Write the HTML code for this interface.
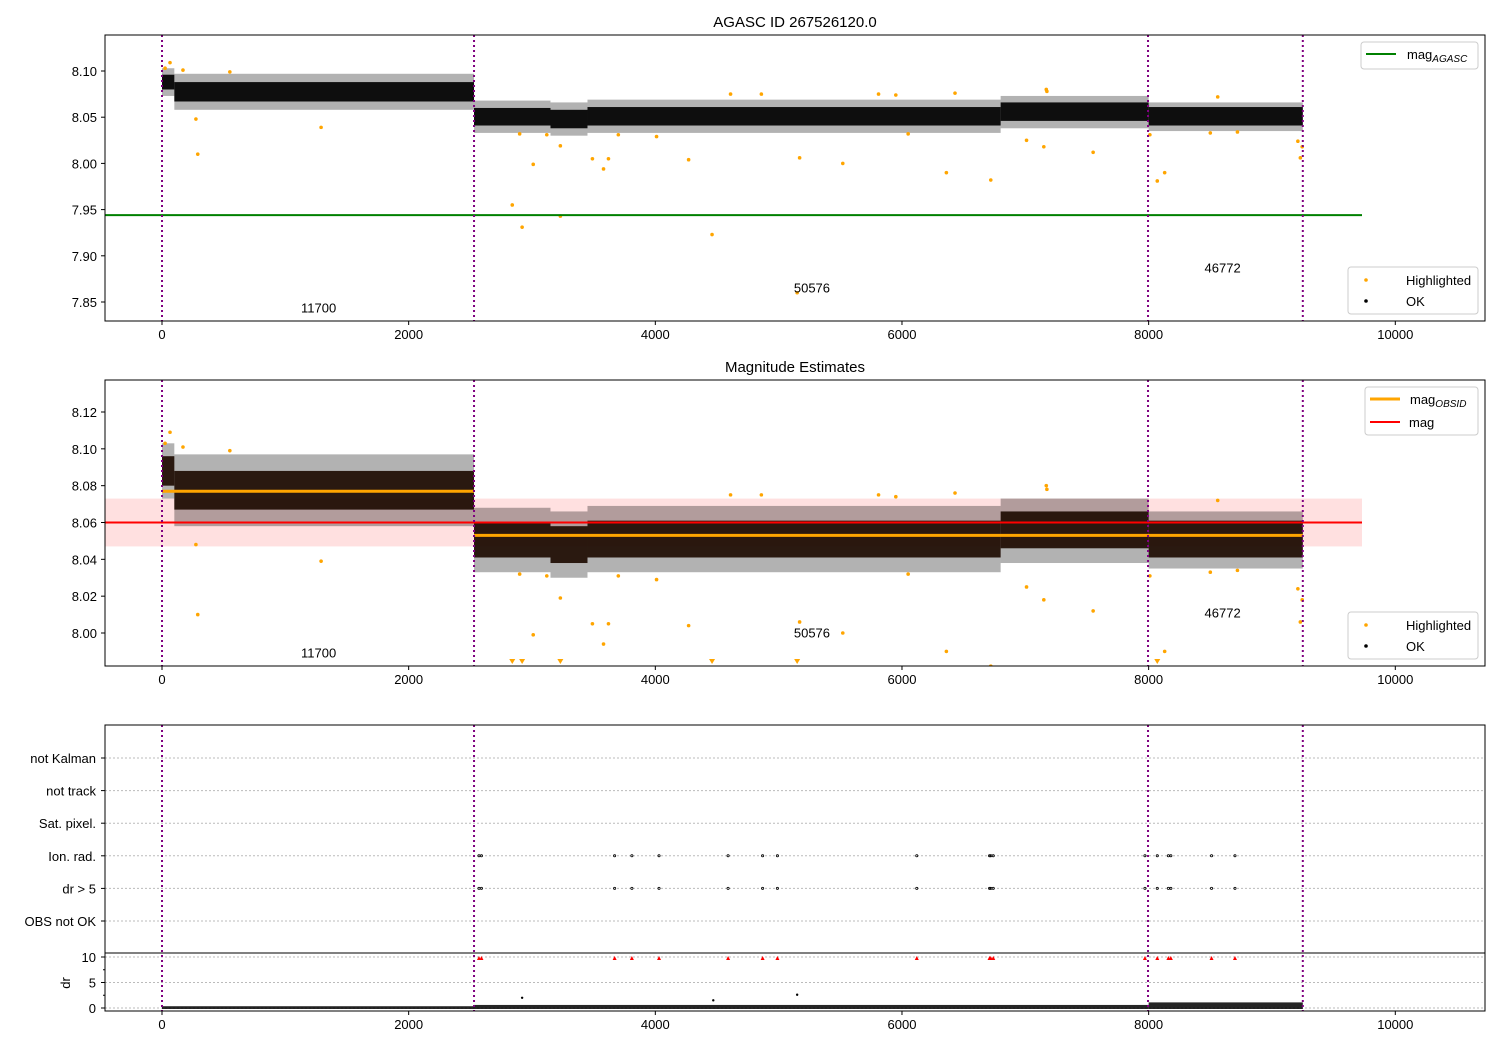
<!DOCTYPE html>
<html><head><meta charset="utf-8"><style>
body{margin:0;background:#fff}
svg{display:block;font-family:"Liberation Sans","DejaVu Sans",sans-serif}
</style></head><body>
<svg id="fig" width="1500" height="1050" viewBox="0 0 1500 1050" xmlns="http://www.w3.org/2000/svg"></svg>
<script>
// ---- data ----
const obsBounds=[0,2530,7995,9250];
const obsLabels=["11700","50576","46772"];
const obsLabelX=[1270,5270,8600];
const cloudStart=[0,100,2530,3150,3450,6800,8000];
const cloudEnd=[100,2530,3150,3450,6800,8000,9250];
const coreLo=[8.080,8.067,8.041,8.038,8.041,8.046,8.041];
const coreHi=[8.096,8.088,8.060,8.058,8.061,8.066,8.061];
const outLo=[8.073,8.058,8.033,8.030,8.033,8.038,8.035];
const outHi=[8.103,8.097,8.068,8.066,8.069,8.073,8.066];
const obsMagX0=[0,2530];
const obsMagX1=[2530,9250];
const obsMag=[8.077,8.053];
const magAgasc=7.944;
const magMean=8.060;
const magStd=0.013;
const hiX=[25,65,170,275,290,550,1290,2840,2920,3010,3230,3230,3490,3580,3620,4010,4270,4460,5150,5170,5520,6050,6360,6720,7010,7150,7550,8010,8070,8130,8500,9210,9230,9245,5810,7170,7175,6430,4610,2900,3120,3700,4860,5950,8560,8720];
const hiY=[8.103,8.109,8.101,8.048,8.010,8.099,8.039,7.955,7.931,7.999,8.019,7.943,8.005,7.994,8.005,8.029,8.004,7.923,7.860,8.006,8.000,8.032,7.990,7.982,8.025,8.018,8.012,8.031,7.981,7.990,8.033,8.024,8.006,8.018,8.075,8.080,8.078,8.076,8.075,8.032,8.031,8.031,8.075,8.074,8.072,8.034];
const flagCats=["OBS not OK","dr > 5","Ion. rad.","Sat. pixel.","not track","not Kalman"];
const eventX=[2570,2590,3670,3810,4030,4590,4870,4990,6120,6710,6720,6740,7970,8070,8160,8180,8510,8700];
const drStart=[0,2530,8000];
const drEnd=[2530,8000,9250];
const drLevel=[0.2,0.4,0.8];
const drHi=[0.35,0.6,1.1];
const drOut=[[2920,2.0],[4470,1.5],[5150,2.6]];
const xTicks=[0,2000,4000,6000,8000,10000];
const y1Ticks=[7.85,7.90,7.95,8.00,8.05,8.10];
const y2Ticks=[8.00,8.02,8.04,8.06,8.08,8.10,8.12];
const drTicks=[0,5,10];

// ---- helpers ----
const S=document.getElementById('fig');const NS='http://www.w3.org/2000/svg';
function el(t,a,p){const e=document.createElementNS(NS,t);for(const k in a)e.setAttribute(k,a[k]);(p||S).appendChild(e);return e;}
function txt(x,y,s,a,p){const e=el('text',Object.assign({x:x,y:y,'font-size':13,fill:'#000'},a),p);e.textContent=s;return e;}
const L=105,R=1485;
const X=v=>162+(v)*0.12333;
function mkY(top,bot,vTop,vBot){return v=>top+(vTop-v)/(vTop-vBot)*(bot-top);}
const P1={top:35,bot:321,Y:mkY(71,302,8.10,7.85),min:7.829,max:8.139};
const P2={top:380,bot:666,Y:mkY(412,633,8.12,8.00),min:7.982,max:8.137};

function xAxis(bot,g){xTicks.forEach(t=>{el('line',{x1:X(t),x2:X(t),y1:bot,y2:bot+4,stroke:'#000'},g);const e=txt(X(t),bot+18,String(t),{'text-anchor':'middle'},g);});}
function vlines(top,bot,g){obsBounds.forEach(b=>{const e=el('line',{x1:X(b),x2:X(b),y1:top,y2:bot,stroke:'#800080','stroke-width':2,'stroke-dasharray':'2,3'},g);});}
function legendBox(x,y,w,h,g){el('rect',{x:x,y:y,width:w,height:h,rx:3,fill:'#fff','fill-opacity':0.85,stroke:'#ccc'},g);}

function magPanel(P,name,showOrange){
  const g=el('g',{});
  const Y=P.Y;
  const clip=el('clipPath',{id:'c'+name},g);el('rect',{x:L,y:P.top,width:R-L,height:P.bot-P.top},clip);
  const inner=el('g',{'clip-path':'url(#c'+name+')'},g);
  if(showOrange){
    const b=el('rect',{x:X(-460),y:Y(magMean+magStd),width:X(9730)-X(-460),height:Y(magMean-magStd)-Y(magMean+magStd),fill:'#ff0000','fill-opacity':0.12},inner);
    
  }
  for(let i=0;i<cloudStart.length;i++){
    const x0=X(cloudStart[i]),w=X(cloudEnd[i])-X(cloudStart[i]);
    const o=el('rect',{x:x0,y:Y(outHi[i]),width:w,height:Y(outLo[i])-Y(outHi[i]),fill:'#000','fill-opacity':0.3},inner);
    
    const c=el('rect',{x:x0,y:Y(coreHi[i]),width:w,height:Y(coreLo[i])-Y(coreHi[i]),fill:showOrange?'#1e0c02':'#000','fill-opacity':0.92},inner);
    
  }
  for(let i=0;i<hiX.length;i++){
    if(hiY[i]<P.min){if(showOrange){const cx=X(hiX[i]),cy=P.bot-4;const t=el('path',{d:`M${cx-3},${cy-3}L${cx+3},${cy-3}L${cx},${cy+2}Z`,fill:'orange'},inner);}continue;}
    const c=el('circle',{cx:X(hiX[i]),cy:Y(hiY[i]),r:1.8,fill:'orange'},inner);
    
  }
  if(showOrange){
    for(let i=0;i<obsMag.length;i++){const l=el('line',{x1:X(obsMagX0[i]),x2:X(obsMagX1[i]),y1:Y(obsMag[i]),y2:Y(obsMag[i]),stroke:'orange','stroke-width':3},inner);}
    const m=el('line',{x1:X(-460),x2:X(9730),y1:Y(magMean),y2:Y(magMean),stroke:'red','stroke-width':2},inner);
  } else {
    const m=el('line',{x1:L,x2:X(9730),y1:Y(magAgasc),y2:Y(magAgasc),stroke:'green','stroke-width':2},inner);
  }
  vlines(P.top,P.bot,g);
  const lblY=[P.min+(P.max-P.min)*0.045,P.min+(P.max-P.min)*0.115,P.min+(P.max-P.min)*0.185];
  for(let i=0;i<obsLabels.length;i++){const t=txt(X(obsLabelX[i]),Y(lblY[i])+4,obsLabels[i],{'text-anchor':'middle'},g);}
  el('rect',{x:L,y:P.top,width:R-L,height:P.bot-P.top,fill:'none',stroke:'#000'},g);
  const ticks=showOrange?y2Ticks:y1Ticks;
  ticks.forEach(t=>{el('line',{x1:L-4,x2:L,y1:Y(t),y2:Y(t),stroke:'#000'},g);const e=txt(L-8,Y(t)+5,t.toFixed(2),{'text-anchor':'end'},g);});
  xAxis(P.bot,g);
  const lg=el('g',{});
  legendBox(1348,P.bot-54,130,47,lg);
  el('circle',{cx:1366,cy:P.bot-41,r:1.8,fill:'orange'},lg);txt(1406,P.bot-36,'Highlighted',{},lg);
  el('circle',{cx:1366,cy:P.bot-20,r:1.8,fill:'#000'},lg);txt(1406,P.bot-15,'OK',{},lg);
  const lg2=el('g',{});
  if(showOrange){
    legendBox(1365,P.top+7,113,48,lg2);
    el('line',{x1:1370,x2:1400,y1:P.top+19,y2:P.top+19,stroke:'orange','stroke-width':3},lg2);
    const t=txt(1410,P.top+24,'mag',{},lg2);const s=el('tspan',{'font-size':10,'font-style':'italic',dy:3},t);s.textContent='OBSID';
    el('line',{x1:1370,x2:1400,y1:P.top+42,y2:P.top+42,stroke:'red','stroke-width':2},lg2);txt(1409,P.top+47,'mag',{},lg2);
  } else {
    legendBox(1361,P.top+7,117,27,lg2);
    el('line',{x1:1366,x2:1396,y1:P.top+19,y2:P.top+19,stroke:'green','stroke-width':2},lg2);
    const t=txt(1407,P.top+24,'mag',{},lg2);const s=el('tspan',{'font-size':10,'font-style':'italic',dy:3},t);s.textContent='AGASC';
  }
}
let t=txt(795,27,'AGASC ID 267526120.0',{'text-anchor':'middle','font-size':15});
magPanel(P1,'agasc-panel',false);
t=txt(795,372,'Magnitude Estimates',{'text-anchor':'middle','font-size':15});
magPanel(P2,'estimates-panel',true);

// ---- flags panel ----
const g3=el('g',{});
const catY=i=>921-i*32.6;
flagCats.forEach((c,i)=>{el('line',{x1:L,x2:R,y1:catY(i),y2:catY(i),stroke:'#bbb','stroke-dasharray':'2,2'},g3);el('line',{x1:L-4,x2:L,y1:catY(i),y2:catY(i),stroke:'#000'},g3);const e=txt(L-9,catY(i)+5,c,{'text-anchor':'end'},g3);});
[1,2].forEach(ci=>eventX.forEach(x=>{const c=el('circle',{cx:X(x),cy:catY(ci),r:1.1,fill:'none',stroke:'#000','stroke-width':0.8},g3);}));
const DY=v=>1008-v*5.1;
drTicks.forEach(v=>{el('line',{x1:L,x2:R,y1:DY(v),y2:DY(v),stroke:'#bbb','stroke-dasharray':'2,2'},g3);el('line',{x1:L-4,x2:L,y1:DY(v),y2:DY(v),stroke:'#000'},g3);const e=txt(L-9,DY(v)+5,String(v),{'text-anchor':'end'},g3);});
[2.5,7.5].forEach(v=>el('line',{x1:L-2,x2:L,y1:DY(v),y2:DY(v),stroke:'#000'},g3));
for(let i=0;i<drStart.length;i++){const r=el('rect',{x:X(drStart[i]),y:DY(drHi[i]),width:X(drEnd[i])-X(drStart[i]),height:DY(0)-DY(drHi[i])+1,fill:'#000','fill-opacity':0.85},g3);}
drOut.forEach(p=>{const c=el('circle',{cx:X(p[0]),cy:DY(p[1]),r:1.2,fill:'#000'},g3);});
eventX.forEach(x=>{const cx=X(x),cy=DY(10)+1;const p=el('path',{d:`M${cx-2},${cy+2}L${cx+2},${cy+2}L${cx},${cy-2}Z`,fill:'red'},g3);});
vlines(725,1011,g3);
el('rect',{x:L,y:725,width:R-L,height:286,fill:'none',stroke:'#000'},g3);
el('line',{x1:L,x2:R,y1:953,y2:953,stroke:'#000'},g3);
t=txt(70,983,'dr',{'text-anchor':'middle',transform:'rotate(-90 70 983)'},g3);
xAxis(1011,g3);
</script>
</body></html>
